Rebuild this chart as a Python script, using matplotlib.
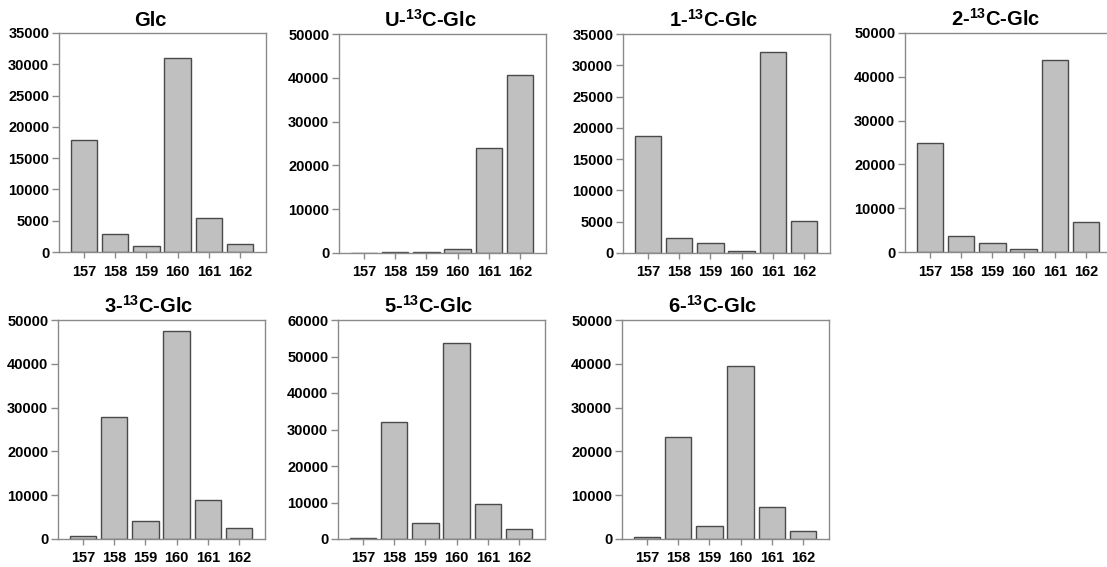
import matplotlib
matplotlib.use("Agg")
import matplotlib.pyplot as plt

plt.rcParams["font.family"] = ["Liberation Sans", "DejaVu Sans"]
plt.rcParams["font.weight"] = "bold"
plt.rcParams["mathtext.fontset"] = "custom"
plt.rcParams["mathtext.rm"] = "Liberation Sans:bold"
plt.rcParams["mathtext.bf"] = "Liberation Sans:bold"
plt.rcParams["mathtext.default"] = "bf"

masses = ["157", "158", "159", "160", "161", "162"]

titles = [
    "Glc",
    r"U-$^{13}$C-Glc",
    r"1-$^{13}$C-Glc",
    r"2-$^{13}$C-Glc",
    r"3-$^{13}$C-Glc",
    r"5-$^{13}$C-Glc",
    r"6-$^{13}$C-Glc",
]

glc = [17900, 2900, 1000, 31000, 5500, 1300]
u13c = [100, 200, 300, 1000, 23900, 40700]
c1 = [18700, 2450, 1650, 370, 32100, 5100]
c2 = [25000, 3650, 2150, 600, 43800, 6800]
c3 = [600, 27800, 4200, 47500, 8800, 2400]
c5 = [350, 32100, 4300, 53700, 9700, 2650]
c6 = [450, 23300, 3050, 39600, 7200, 1900]

series = [glc, u13c, c1, c2, c3, c5, c6]
ymax = [35000, 50000, 35000, 50000, 50000, 60000, 50000]
ystep = [5000, 10000, 5000, 10000, 10000, 10000, 10000]

W, H = 1107, 567
fig = plt.figure(figsize=(W / 100, H / 100), dpi=100)

# panel boxes in pixels: left, top, width, height
lefts = [59, 339, 623, 905, 58, 338, 622]
tops = [33, 34, 34, 33, 320, 320, 320]
pw, ph = 207, 219

for i in range(7):
    l, t = lefts[i], tops[i]
    ax = fig.add_axes([l / W, (H - t - ph) / H, pw / W, ph / H])
    x = list(range(len(masses)))
    ax.bar(x, series[i], width=0.85, color="#c0c0c0", edgecolor="#4a4a4a", linewidth=1.0)
    ax.set_xlim(-0.8, 5.83)
    ax.set_ylim(0, ymax[i])
    ax.set_yticks(list(range(0, ymax[i] + 1, ystep[i])))
    ax.set_xticks(x)
    ax.set_xticklabels(masses)
    for s in ax.spines.values():
        s.set_color("#8a8a8a")
        s.set_linewidth(1.0)
    ax.tick_params(axis="both", colors="#8a8a8a", labelcolor="black", labelsize=10.5, width=1.0)
    ax.tick_params(axis="y", length=5, pad=2)
    ax.tick_params(axis="x", length=4, pad=5)
    for lab in ax.get_xticklabels() + ax.get_yticklabels():
        lab.set_fontweight("bold")
    ax.set_title(titles[i], fontsize=14.5, fontweight="bold", x=0.44, pad=5)

fig.savefig("out.png", dpi=100)
